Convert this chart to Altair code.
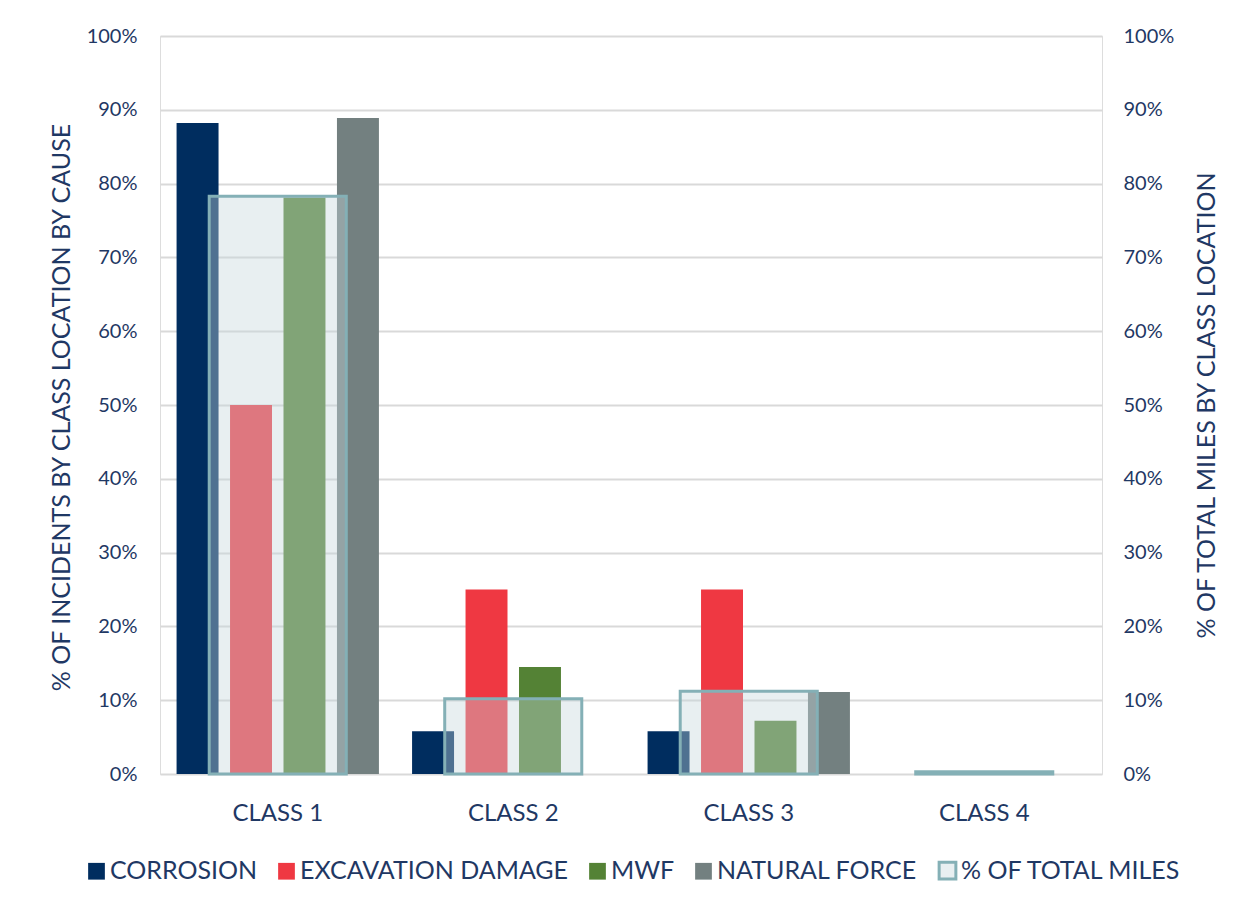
import altair as alt
import pandas as pd

classes = ["CLASS 1", "CLASS 2", "CLASS 3", "CLASS 4"]
causes = ["CORROSION", "EXCAVATION DAMAGE", "MWF", "NATURAL FORCE"]
corrosion = [0.882, 0.058, 0.058, 0.0]
excavation = [0.50, 0.25, 0.25, 0.0]
mwf = [0.781, 0.145, 0.072, 0.0]
natural_force = [0.889, 0.0, 0.111, 0.0]
total_miles = [0.783, 0.102, 0.112, 0.003]

miles_label = "% OF TOTAL MILES"
cause_colors = ["#002D5F", "#EF3842", "#548235", "#738080"]
miles_fill = "#C5D7DC"
miles_stroke = "#84B0B6"
text_color = "#1F3864"
font = "Lato"

rows = []
for ci, c in enumerate(classes):
    for cause, vals in zip(causes, [corrosion, excavation, mwf, natural_force]):
        rows.append({"cls": c, "cause": cause, "value": vals[ci]})
bars_df = pd.DataFrame(rows)
miles_df = pd.DataFrame({"cls": classes, "miles": total_miles})

x_enc = alt.X("cls:N", sort=classes, title=None,
              scale=alt.Scale(paddingInner=0, paddingOuter=0),
              axis=alt.Axis(labelAngle=0, labelFontSize=24, labelColor=text_color,
                            labelFont=font, labelPadding=27, ticks=False, domain=False))

bars = alt.Chart(bars_df).mark_bar().encode(
    x=x_enc,
    xOffset=alt.XOffset("cause:N", sort=causes,
                        scale=alt.Scale(paddingInner=0.215, paddingOuter=0.31)),
    y=alt.Y("value:Q", title="% OF INCIDENTS BY CLASS LOCATION BY CAUSE",
            scale=alt.Scale(domain=[0, 1], nice=False),
            axis=alt.Axis(format=".0%", values=[i / 10 for i in range(11)],
                          orient="left", ticks=False, domain=False,
                          labelFontSize=20, labelColor=text_color, labelFont=font,
                          labelPadding=23, gridColor="#D9D9D9", gridWidth=2,
                          titleFontSize=25, titleColor=text_color, titleFont=font,
                          titleFontWeight="normal", titleAngle=270,
                          titleX=-99, titleY=371, titleAlign="center",
                          titleBaseline="middle")),
    color=alt.Color("cause:N",
                    scale=alt.Scale(domain=causes + [miles_label],
                                    range=cause_colors + ["#E8EFF1"]),
                    legend=alt.Legend(
                        title=None, orient="none", direction="horizontal",
                        legendX=-76, legendY=822, symbolType="square",
                        symbolSize=280, labelFontSize=25, labelColor=text_color,
                        labelFont=font, labelOffset=1, columnPadding=16,
                        labelLimit=0, symbolOpacity=1,
                        symbolStrokeColor={"expr": f"datum.value == '{miles_label}' ? '{miles_stroke}' : 'transparent'"},
                        symbolStrokeWidth={"expr": f"datum.value == '{miles_label}' ? 3 : 0"},
                    )),
)

miles = alt.Chart(miles_df).mark_bar(
    width=alt.RelativeBandSize(0.582), fill=miles_fill, fillOpacity=0.4,
    stroke=miles_stroke, strokeWidth=3,
).encode(
    x=alt.X("cls:N", sort=classes),
    y=alt.Y("miles:Q", title="% OF TOTAL MILES BY CLASS LOCATION",
            scale=alt.Scale(domain=[0, 1], nice=False),
            axis=alt.Axis(format=".0%", values=[i / 10 for i in range(11)],
                          orient="right", ticks=False, domain=False, grid=False,
                          labelFontSize=20, labelColor=text_color, labelFont=font,
                          labelPadding=21,
                          titleFontSize=25, titleColor=text_color, titleFont=font,
                          titleFontWeight="normal", titleAngle=270,
                          titleX=104, titleY=369, titleAlign="center",
                          titleBaseline="middle")),
)

chart = alt.layer(bars, miles).resolve_scale(y="independent").properties(
    width=942, height=738,
    autosize=alt.AutoSizeParams(type="none"),
    padding={"left": 160, "top": 36, "right": 142, "bottom": 135},
).configure_view(stroke=None).configure(background="white")

chart.save("out.html", embed_options={"renderer": "svg", "actions": False})
